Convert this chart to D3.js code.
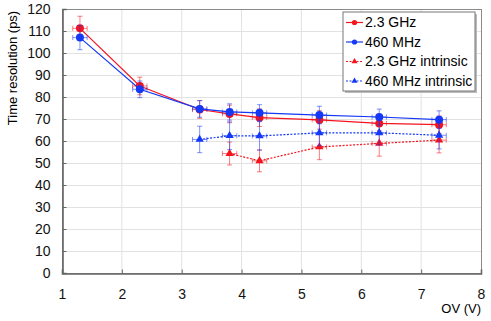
<!DOCTYPE html>
<meta charset="utf-8" />
<style>
  body { margin: 0; background: #fff; }
  svg { font-family: "Liberation Sans", Arial, sans-serif; }
  .grid line { stroke: #e2e2e2; }
  .frame { fill: none; stroke: #8a8a8a; }
  .axis text { font-size: 14px; fill: #111; }
</style>
<body>
  <div id="chart"></div>
  <script src="https://d3js.org/d3.v7.min.js"></script>
  <script>
    const width = 491;
    const height = 321;

    const xTicks = [1, 2, 3, 4, 5, 6, 7, 8];
    const yTicks = [0, 10, 20, 30, 40, 50, 60, 70, 80, 90, 100, 110, 120];

    const ovMain = [1.3, 2.3, 3.3, 3.8, 4.3, 5.3, 6.3, 7.3];
    const ovIntrinsicBlue = [3.3, 3.8, 4.3, 5.3, 6.3, 7.3];
    const ovIntrinsicRed = [3.8, 4.3, 5.3, 6.3, 7.3];

    const res23GHz = [111.2, 85.0, 74.3, 72.3, 70.6, 69.6, 68.0, 67.4];
    const err23GHz = [5.5, 4.0, 4.0, 4.0, 4.0, 4.2, 4.0, 4.0];
    const res460MHz = [107.0, 83.5, 74.6, 73.2, 72.8, 71.8, 70.9, 69.7];
    const err460MHz = [5.5, 3.8, 3.8, 3.7, 3.7, 4.0, 3.6, 4.0];
    const res23GHzIntr = [54.3, 51.0, 57.3, 58.9, 60.4];
    const err23GHzIntr = [5.2, 5.0, 5.8, 5.8, 5.8];
    const res460MHzIntr = [60.7, 62.4, 62.3, 63.7, 63.7, 62.6];
    const err460MHzIntr = [6.0, 6.3, 6.5, 5.8, 5.5, 6.2];
    const xErr = 0.12;

    const seriesNames = ["2.3 GHz", "460 MHz", "2.3 GHz intrinsic", "460 MHz intrinsic"];

    const red = "#f5141e";
    const blue = "#1438f5";

    const series = [
      { name: seriesNames[0], x: ovMain, y: res23GHz, e: err23GHz, color: red, tri: false },
      { name: seriesNames[1], x: ovMain, y: res460MHz, e: err460MHz, color: blue, tri: false },
      { name: seriesNames[2], x: ovIntrinsicRed, y: res23GHzIntr, e: err23GHzIntr, color: red, tri: true },
      { name: seriesNames[3], x: ovIntrinsicBlue, y: res460MHzIntr, e: err460MHzIntr, color: blue, tri: true },
    ];

    const margin = { top: 9, right: 10, bottom: 48, left: 62 };

    const x = d3.scaleLinear().domain([1, 8]).range([margin.left, width - margin.right]);
    const y = d3.scaleLinear().domain([0, 120]).range([height - margin.bottom, margin.top]);

    const svg = d3
      .select("#chart")
      .append("svg")
      .attr("width", width)
      .attr("height", height);

    // grid
    const grid = svg.append("g").attr("class", "grid");
    grid
      .selectAll(".gx")
      .data(xTicks.slice(1, -1))
      .enter()
      .append("line")
      .attr("x1", (d) => x(d))
      .attr("x2", (d) => x(d))
      .attr("y1", y(0))
      .attr("y2", y(120));
    grid
      .selectAll(".gy")
      .data(yTicks.slice(1))
      .enter()
      .append("line")
      .attr("x1", x(1))
      .attr("x2", x(8))
      .attr("y1", (d) => y(d) + 0.5)
      .attr("y2", (d) => y(d) + 0.5);

    svg
      .append("rect")
      .attr("class", "frame")
      .attr("x", x(1) + 0.5)
      .attr("y", y(120) + 0.5)
      .attr("width", x(8) - x(1))
      .attr("height", y(0) - y(120));

    // axes
    const xAxis = svg
      .append("g")
      .attr("class", "axis")
      .attr("transform", `translate(0,${y(0) + 0.5})`)
      .call(d3.axisBottom(x).tickValues(xTicks).tickSize(-4).tickPadding(16).tickFormat(d3.format("d")));
    const yAxis = svg
      .append("g")
      .attr("class", "axis")
      .attr("transform", `translate(${x(1) + 0.5},0)`)
      .call(d3.axisLeft(y).tickValues(yTicks).tickSize(-4).tickPadding(12).tickFormat(d3.format("d")));

    [xAxis, yAxis].forEach((g) => {
      g.select(".domain").attr("stroke", "#666").attr("stroke-width", 1.6);
      g.selectAll(".tick line").attr("stroke", "#666");
      g.selectAll("text").attr("font-family", null).attr("font-size", null);
    });

    svg
      .append("text")
      .attr("x", x(8))
      .attr("y", 313)
      .attr("text-anchor", "end")
      .attr("font-size", 13)
      .text("OV (V)");

    svg
      .append("text")
      .attr("transform", "translate(17,68) rotate(-90)")
      .attr("text-anchor", "middle")
      .attr("font-size", 13)
      .text("Time resolution (ps)");

    const line = d3
      .line()
      .x((d) => x(d[0]))
      .y((d) => y(d[1]));

    const tri = d3.symbol().type(d3.symbolTriangle).size(30);

    series.forEach((s) => {
      const pts = s.x.map((v, i) => [v, s.y[i], s.e[i]]);
      const g = svg.append("g");

      // error bars
      const eb = g.append("g").attr("stroke", s.color).attr("stroke-opacity", 0.55).attr("stroke-width", 1);
      pts.forEach((p) => {
        eb.append("line").attr("x1", x(p[0])).attr("x2", x(p[0])).attr("y1", y(p[1] - p[2])).attr("y2", y(p[1] + p[2]));
        eb.append("line").attr("x1", x(p[0]) - 2.5).attr("x2", x(p[0]) + 2.5).attr("y1", y(p[1] - p[2])).attr("y2", y(p[1] - p[2]));
        eb.append("line").attr("x1", x(p[0]) - 2.5).attr("x2", x(p[0]) + 2.5).attr("y1", y(p[1] + p[2])).attr("y2", y(p[1] + p[2]));
        eb.append("line").attr("x1", x(p[0] - xErr)).attr("x2", x(p[0] + xErr)).attr("y1", y(p[1])).attr("y2", y(p[1]));
        eb.append("line").attr("x1", x(p[0] - xErr)).attr("x2", x(p[0] - xErr)).attr("y1", y(p[1]) - 2.5).attr("y2", y(p[1]) + 2.5);
        eb.append("line").attr("x1", x(p[0] + xErr)).attr("x2", x(p[0] + xErr)).attr("y1", y(p[1]) - 2.5).attr("y2", y(p[1]) + 2.5);
      });

      g.append("path")
        .datum(pts)
        .attr("fill", "none")
        .attr("stroke", s.color)
        .attr("stroke-width", 1.2)
        .attr("stroke-dasharray", s.tri ? "2,1.5" : null)
        .attr("d", line);

      if (s.tri) {
        g.selectAll(".m")
          .data(pts)
          .enter()
          .append("path")
          .attr("d", tri)
          .attr("transform", (d) => `translate(${x(d[0])},${y(d[1])})`)
          .attr("fill", s.color);
      } else {
        g.selectAll(".m")
          .data(pts)
          .enter()
          .append("circle")
          .attr("cx", (d) => x(d[0]))
          .attr("cy", (d) => y(d[1]))
          .attr("r", 4)
          .attr("fill", s.color);
      }
    });

    // legend
    const lg = svg.append("g").attr("transform", "translate(343,12)");
    lg.append("rect").attr("x", 2).attr("y", 2).attr("width", 132).attr("height", 79).attr("fill", "#bbb");
    lg.append("rect").attr("width", 132).attr("height", 79).attr("fill", "#fff").attr("stroke", "#777");
    series.forEach((s, i) => {
      const row = lg.append("g").attr("transform", `translate(0,${10.5 + i * 19.5})`);
      row.append("line")
        .attr("x1", 3)
        .attr("x2", 20)
        .attr("stroke", s.color)
        .attr("stroke-width", 1.2)
        .attr("stroke-dasharray", s.tri ? "2,1.5" : null);
      if (s.tri) {
        row.append("path").attr("d", d3.symbol().type(d3.symbolTriangle).size(16)).attr("transform", "translate(11.5,0)").attr("fill", s.color);
      } else {
        row.append("circle").attr("cx", 11.5).attr("r", 2.6).attr("fill", s.color);
      }
      row.append("text").attr("x", 22).attr("dy", "0.35em").attr("font-size", 14).text(s.name);
    });
  </script>
</body>
